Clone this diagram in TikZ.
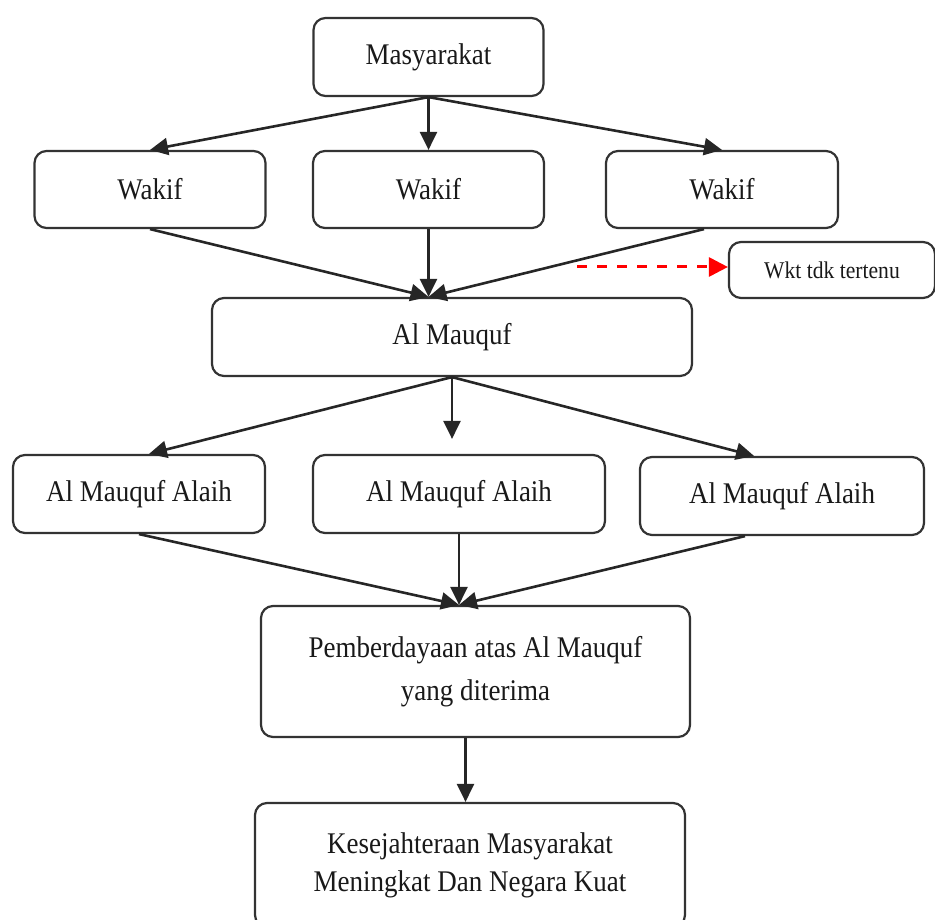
\documentclass[tikz,border=0pt]{standalone}
\usepackage{fontspec}
\setmainfont{Liberation Serif}[FakeStretch=0.9]
\usetikzlibrary{arrows.meta,calc}
\definecolor{boxline}{HTML}{333333}
\definecolor{wktred}{HTML}{FF0000}
\tikzset{
  box/.style   = {rounded corners=6pt, draw=boxline, line width=1.1pt, align=center,
                  inner sep=2pt, text=black!90, font=\fontsize{15}{19}\selectfont},
  ar/.style    = {-{Triangle[length=9pt,width=8.5pt]}, line width=1.3pt, draw=black!85},
  redar/.style = {-{Triangle[length=9.5pt,width=9.5pt]}, line width=1.5pt, draw=wktred,
                  dash pattern=on 5pt off 5pt},
}

\begin{document}
\begin{tikzpicture}[x=0.5pt, y=-0.5pt]
  \useasboundingbox (0,0) rectangle (935,919);
  % boxes
  \node[box, minimum width=115pt, minimum height=39pt] (masy) at (428.5,57) {Masyarakat};
  \node[box, minimum width=115.5pt, minimum height=38.5pt] (wk1) at (150,189.5) {Wakif};
  \node[box, minimum width=115.5pt, minimum height=38.5pt] (wk2) at (428.5,189.5) {Wakif};
  \node[box, minimum width=116pt, minimum height=38.5pt] (wk3) at (722,189.5) {Wakif};
  \node[box, minimum width=103pt, minimum height=28pt, font=\fontsize{12}{14}\selectfont] (wkt) at (832,270) {Wkt tdk tertenu};
  \node[box, minimum width=240pt, minimum height=39pt] (mq) at (452,337) {Al Mauquf};
  \node[box, minimum width=126pt, minimum height=39pt] (ma1) at (139,494) {Al Mauquf Alaih};
  \node[box, minimum width=146pt, minimum height=39pt] (ma2) at (459,494) {Al Mauquf Alaih};
  \node[box, minimum width=142pt, minimum height=39pt] (ma3) at (782,496) {Al Mauquf Alaih};
  \node[box, minimum width=214.5pt, minimum height=65.5pt, font=\fontsize{15}{21.5}\selectfont] (pb) at (475.5,671.5) {Pemberdayaan atas Al Mauquf\\yang diterima};
  \node[box, minimum width=215pt, minimum height=62pt] (ks) at (470,865) {Kesejahteraan Masyarakat\\Meningkat Dan Negara Kuat};
  % connectors
  \coordinate (mqin) at (wk2.south |- mq.north);
  \coordinate (pbin) at (ma2.south |- pb.north);
  \coordinate (wktfrom) at (577,267);
  \draw[ar] (masy.south) -- (wk1.north);
  \draw[ar] (masy.south) -- (wk2.north);
  \draw[ar] (masy.south) -- (wk3.north);
  \draw[ar] (wk1.south) -- (mqin);
  \draw[ar] (wk2.south) -- (mqin);
  \draw[ar] ([xshift=-9pt]wk3.south) -- (mqin);
  \draw[redar] (wktfrom) -- (wktfrom -| wkt.west);
  \draw[ar] (mq.south) -- ([xshift=5pt]ma1.north);
  \draw[ar] (mq.south) -- ([yshift=7.5pt]mq.south |- ma2.north);
  \draw[ar] (mq.south) -- ([xshift=-14pt]ma3.north);
  \draw[ar] (ma1.south) -- (pbin);
  \draw[ar] (ma2.south) -- (pbin);
  \draw[ar] ([xshift=-18.5pt]ma3.south) -- (pbin);
  \draw[ar] ([xshift=-5pt]pb.south) -- ([xshift=-5pt]pb.south |- ks.north);
\end{tikzpicture}
\end{document}
